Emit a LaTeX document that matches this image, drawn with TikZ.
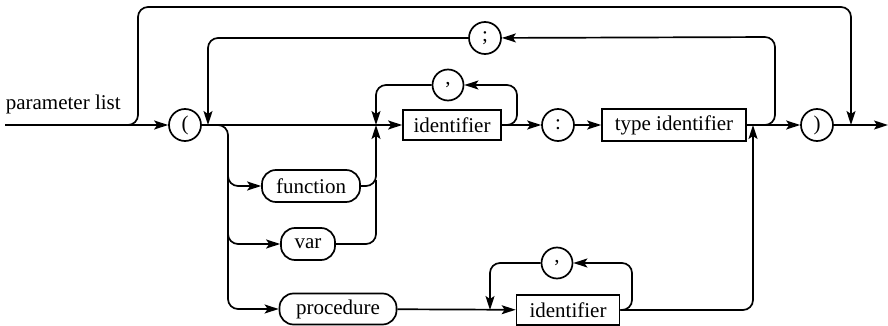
\documentclass[tikz,border=0pt]{standalone}
\usepackage{fontspec}
\setmainfont{Liberation Serif}
\usetikzlibrary{arrows.meta}
\begin{document}
\begin{tikzpicture}[x=1pt,y=-1pt, line width=1.7pt,
  tip/.style={-{Stealth[length=14pt,width=9pt,inset=3pt]}},
  term/.style={draw, circle, minimum size=32pt, inner sep=0pt},
  nterm/.style={draw, rectangle, inner sep=0pt, minimum height=30pt},
  kw/.style={draw, rounded corners=14pt, inner sep=0pt, minimum height=32pt},
  rc/.style={rounded corners=10pt},
  every node/.style={font=\fontsize{21}{25}\selectfont}]
\useasboundingbox (0,0) rectangle (888,326);
% nodes
\node[term] (lp) at (185,125) {(};
\node[term] (semi) at (485,38) {;};
\node[term, minimum size=31pt] (c1) at (448,85) {,};
\node[nterm, minimum width=98pt] (id1) at (452,125) {identifier};
\node[term] (colon) at (558,125) {:};
\node[nterm, minimum width=144pt, minimum height=32pt] (tid) at (674,125) {type identifier};
\node[term] (rp) at (817,125) {)};
\node[kw, minimum width=98pt] (fn) at (311,186) {function};
\node[kw, minimum width=54pt] (var) at (308,244) {var};
\node[kw, minimum width=117pt, minimum height=31pt] (proc) at (338,309) {procedure};
\node[term, minimum size=31pt] (c2) at (557,263) {,};
\node[nterm, minimum width=103pt] (id2) at (568,310) {identifier};
\node[anchor=base west, inner sep=0pt] (title) at (5,110) {parameter list};
% coordinates
\coordinate (start) at (5,125);
\coordinate (fin) at (888,125);
\coordinate (j1) at (208,125);
\coordinate (j2) at (376,125);
\coordinate (j3) at (753,125);
\coordinate (j4) at (851,125);
\coordinate (j5) at (490,310);
\coordinate (sp1) at (126,125);
\coordinate (sp2) at (216,125);
\coordinate (sp3) at (763,125);
% connectors
\draw[tip] (start) -- (lp);
\draw[tip, rc] (sp1) -| (138,7) -| (j4);
\draw[tip] (lp) -- (id1);
\draw[tip, rc] (sp3) -| (775,37) -- (semi);
\draw[tip, rc] (semi) -| (j1);
\draw[tip, rc] (id1.east) -| (517,85) -- (c1);
\draw[tip, rc] (c1) -| (j2);
\draw[tip] (id1) -- (colon);
\draw[tip] (colon) -- (tid);
\draw[tip] (tid) -- (rp);
\draw[tip] (rp) -- (fin);
\draw[tip, rc] (sp2) -| (228,309) -- (proc);
\draw[tip, rc] (228,160) |- (fn);
\draw[tip, rc] (228,220) |- (var);
\draw[tip, rc] (fn) -| (j2);
\draw[rc] (var) -| (376,180);
\draw[tip] (proc) -- (id2);
\draw[tip, rc] (id2.east) -| (632,263) -- (c2);
\draw[tip, rc] (c2) -| (j5);
\draw[tip, rc] (id2.east) -| (j3);
\end{tikzpicture}
\end{document}
